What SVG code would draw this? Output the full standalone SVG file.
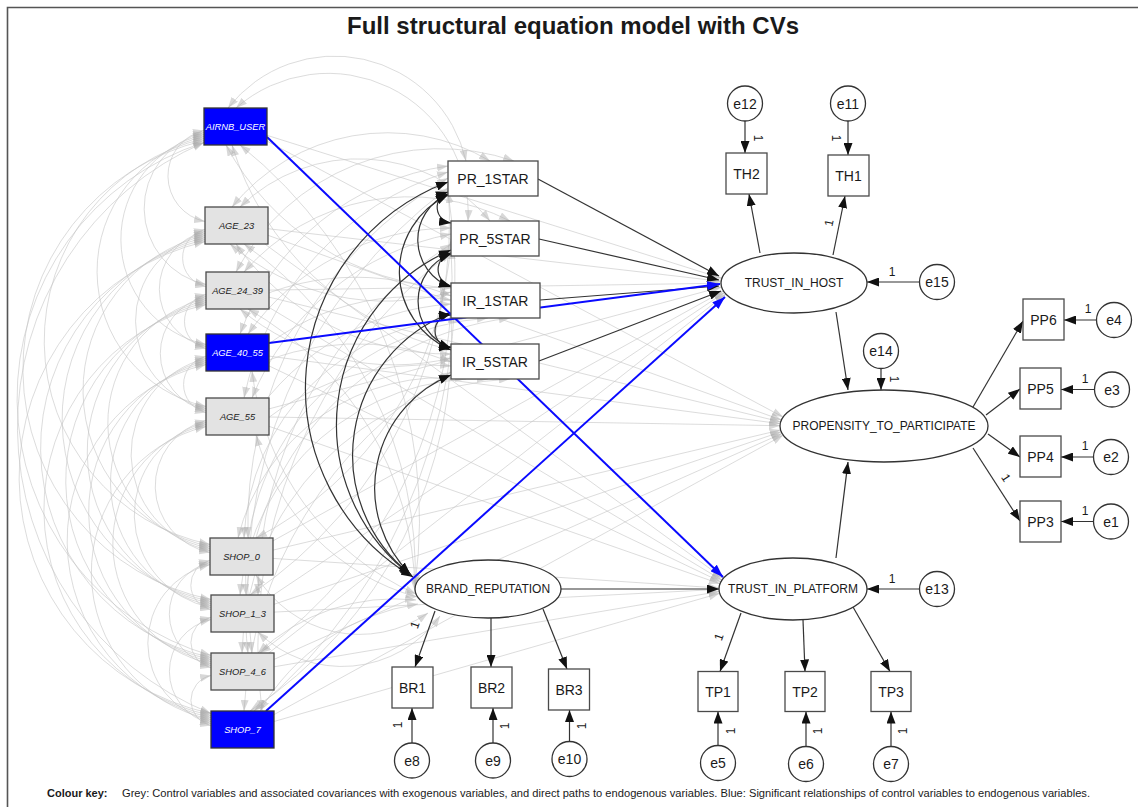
<svg xmlns="http://www.w3.org/2000/svg" width="1138" height="807" viewBox="0 0 1138 807">
  <style>
    text { font-family: "Liberation Sans", Arial, sans-serif; fill: #1a1a1a; }
    .box { fill: #ffffff; stroke: #4a4a4a; stroke-width: 1.3; }
    .ctl { fill: #e3e3e3; stroke: #4a4a4a; stroke-width: 1.3; }
    .sig { fill: #0000ff; stroke: #333333; stroke-width: 1.3; }
    .lat { fill: #ffffff; stroke: #333333; stroke-width: 1.3; }
    .err { fill: #ffffff; stroke: #333333; stroke-width: 1.3; }
    .lbl { font-size: 14px; text-anchor: middle; dominant-baseline: central; }
    .llbl { font-size: 12px; text-anchor: middle; dominant-baseline: central; }
    .clbl { font-size: 9.3px; font-style: italic; text-anchor: middle; dominant-baseline: central; }
    .clbl.w { fill: #ffffff; }
    .one { font-size: 12px; text-anchor: middle; dominant-baseline: central; }
    .path { fill: none; stroke: #333333; stroke-width: 1.2; marker-end: url(#ah); }
    .cov { fill: none; stroke: #333333; stroke-width: 1.2; marker-start: url(#ah); marker-end: url(#ah); }
    .gcov { fill: none; stroke: #c4c4c4; stroke-opacity: 0.6; stroke-width: 1; marker-start: url(#gh); marker-end: url(#gh); }
    .gpath { fill: none; stroke: #c4c4c4; stroke-opacity: 0.6; stroke-width: 1; marker-end: url(#gh); }
    .bpath { fill: none; stroke: #0a0aff; stroke-width: 2; marker-end: url(#bh); }
  </style>
  <defs>
    <marker id="ah" viewBox="0 0 12 9" refX="12" refY="4.5" markerWidth="12" markerHeight="9" markerUnits="userSpaceOnUse" orient="auto-start-reverse">
      <path d="M0,0L12,4.5L0,9z" fill="#111111"/>
    </marker>
    <marker id="bh" viewBox="0 0 13 9" refX="13" refY="4.5" markerWidth="13" markerHeight="9" markerUnits="userSpaceOnUse" orient="auto-start-reverse">
      <path d="M0,0L13,4.5L0,9z" fill="#0a0aff"/>
    </marker>
    <marker id="gh" viewBox="0 0 11 8" refX="11" refY="4" markerWidth="11" markerHeight="8" markerUnits="userSpaceOnUse" orient="auto-start-reverse">
      <path d="M0,0L11,4L0,8z" fill="#a8a8a8" fill-opacity="0.45"/>
    </marker>
  </defs>

  <rect x="0" y="0" width="1138" height="807" fill="#ffffff"/>
  <!-- frame -->
  <path d="M7.5,807 L7.5,7.5 L1138,7.5" fill="none" stroke="#555555" stroke-width="1.6"/>

  <g id="title">
    <text x="573" y="34" font-size="24" font-weight="bold" text-anchor="middle" fill="#000000">Full structural equation model with CVs</text>
  </g>

  <g id="connectors">
    <!-- covariances among control variables -->
    <g id="control-covariances">
      <path class="gcov" d="M204,130.5 A46.6,46.6 0 0 0 205,221.5"/>
      <path class="gcov" d="M204,132.5 A77.9,77.9 0 0 0 206,284.5"/>
      <path class="gcov" d="M204,134.5 A107.6,107.6 0 0 0 206,344.5"/>
      <path class="gcov" d="M204,136.5 A138.4,138.4 0 0 0 206,406.5"/>
      <path class="gcov" d="M204,138.5 A208,208 0 0 0 210,544.5"/>
      <path class="gcov" d="M204,140.5 A235,235 0 0 0 211,599.5"/>
      <path class="gcov" d="M204,142.5 A268,268 0 0 0 211,655.5"/>
      <path class="gcov" d="M204,142.5 A309.5,309.5 0 0 0 211,713.5"/>
      <path class="gcov" d="M205,229.5 A29.2,29.2 0 0 0 206,286.5"/>
      <path class="gcov" d="M205,231.5 A58.9,58.9 0 0 0 206,346.5"/>
      <path class="gcov" d="M205,233.5 A89.7,89.7 0 0 0 206,408.5"/>
      <path class="gcov" d="M205,235.5 A159.4,159.4 0 0 0 210,546.5"/>
      <path class="gcov" d="M205,237.5 A186.5,186.5 0 0 0 211,601.5"/>
      <path class="gcov" d="M205,239.5 A214.2,214.2 0 0 0 211,657.5"/>
      <path class="gcov" d="M205,241.5 A241.9,241.9 0 0 0 211,713.5"/>
      <path class="gcov" d="M206,294.5 A27.7,27.7 0 0 0 206,348.5"/>
      <path class="gcov" d="M206,296.5 A58.4,58.4 0 0 0 206,410.5"/>
      <path class="gcov" d="M206,298.5 A128.1,128.1 0 0 0 210,548.5"/>
      <path class="gcov" d="M206,300.5 A155.3,155.3 0 0 0 211,603.5"/>
      <path class="gcov" d="M206,302.5 A183,183 0 0 0 211,659.5"/>
      <path class="gcov" d="M206,304.5 A210.6,210.6 0 0 0 211,715.5"/>
      <path class="gcov" d="M206,356.5 A28.7,28.7 0 0 0 206,412.5"/>
      <path class="gcov" d="M206,358.5 A98.4,98.4 0 0 0 210,550.5"/>
      <path class="gcov" d="M206,360.5 A125.6,125.6 0 0 0 211,605.5"/>
      <path class="gcov" d="M206,362.5 A153.2,153.2 0 0 0 211,661.5"/>
      <path class="gcov" d="M206,364.5 A180.9,180.9 0 0 0 211,717.5"/>
      <path class="gcov" d="M206,420.5 A67.7,67.7 0 0 0 210,552.5"/>
      <path class="gcov" d="M206,422.5 A94.8,94.8 0 0 0 211,607.5"/>
      <path class="gcov" d="M206,424.5 A122.5,122.5 0 0 0 211,663.5"/>
      <path class="gcov" d="M206,426.5 A150.2,150.2 0 0 0 211,719.5"/>
      <path class="gcov" d="M210,560.5 A25.1,25.1 0 0 0 211,609.5"/>
      <path class="gcov" d="M210,562.5 A52.8,52.8 0 0 0 211,665.5"/>
      <path class="gcov" d="M210,564.5 A80.5,80.5 0 0 0 211,721.5"/>
      <path class="gcov" d="M211,617.5 A25.6,25.6 0 0 0 211,667.5"/>
      <path class="gcov" d="M211,619.5 A53.3,53.3 0 0 0 211,723.5"/>
      <path class="gcov" d="M211,675.5 A25.6,25.6 0 0 0 211,725.5"/>
    </g>

    <!-- covariances of control variables with exogenous variables -->
    <g id="control-exogenous-covariances">
      <path class="gcov" d="M228,108 A135,135 0 0 1 466,161"/>
      <path class="gcov" d="M232,207 A200,200 0 0 1 490,161"/>
      <path class="gcov" d="M236,272 A230,230 0 0 1 514,161"/>
      <path class="gcov" d="M240,334 A260,260 0 0 1 448,166"/>
      <path class="gcov" d="M244,398 A300,300 0 0 1 448,172"/>
      <path class="gcov" d="M248,538 A400,400 0 0 1 448,178"/>
      <path class="gcov" d="M250,595 A450,450 0 0 0 448,184"/>
      <path class="gcov" d="M252,653 A500,500 0 0 1 448,188"/>
      <path class="gcov" d="M254,711 A560,560 0 0 0 448,192"/>

      <path class="gcov" d="M236,108 A140,140 0 0 1 468,221"/>
      <path class="gcov" d="M240,207 A170,170 0 0 1 490,221"/>
      <path class="gcov" d="M244,272 A220,220 0 0 1 510,221"/>
      <path class="gcov" d="M248,334 A250,250 0 0 1 451,228"/>
      <path class="gcov" d="M252,398 A270,270 0 0 1 451,234"/>
      <path class="gcov" d="M256,538 A360,360 0 0 0 451,240"/>
      <path class="gcov" d="M258,595 A420,420 0 0 1 451,244"/>
      <path class="gcov" d="M260,653 A460,460 0 0 0 451,248"/>
      <path class="gcov" d="M262,711 A500,500 0 0 1 451,252"/>

      <path class="gcov" d="M226,145 A270,270 0 0 0 451,288"/>
      <path class="gcov" d="M230,244 A240,240 0 0 0 451,292"/>
      <path class="gcov" d="M234,309 A250,250 0 0 1 451,296"/>
      <path class="gcov" d="M238,371 A240,240 0 0 1 451,300"/>
      <path class="gcov" d="M242,435 A260,260 0 0 1 451,304"/>
      <path class="gcov" d="M244,538 A230,230 0 0 1 466,318"/>
      <path class="gcov" d="M246,595 A260,260 0 0 1 488,318"/>
      <path class="gcov" d="M248,653 A300,300 0 0 1 510,318"/>
      <path class="gcov" d="M250,711 A450,450 0 0 0 451,312"/>

      <path class="gcov" d="M232,145 A300,300 0 0 0 451,350"/>
      <path class="gcov" d="M236,244 A260,260 0 0 0 451,354"/>
      <path class="gcov" d="M240,309 A240,240 0 0 0 451,358"/>
      <path class="gcov" d="M244,371 A250,250 0 0 1 451,362"/>
      <path class="gcov" d="M248,435 A260,260 0 0 1 451,366"/>
      <path class="gcov" d="M238,538 A210,210 0 0 1 466,379"/>
      <path class="gcov" d="M240,595 A240,240 0 0 1 488,379"/>
      <path class="gcov" d="M242,653 A280,280 0 0 1 510,379"/>
      <path class="gcov" d="M244,711 A420,420 0 0 1 451,372"/>

      <path class="gcov" d="M240,145 A480,480 0 0 1 415,585"/>
      <path class="gcov" d="M244,244 A400,400 0 0 1 415,588"/>
      <path class="gcov" d="M248,309 A330,330 0 0 1 415,591"/>
      <path class="gcov" d="M252,371 A280,280 0 0 0 416,594"/>
      <path class="gcov" d="M256,435 A230,230 0 0 0 417,597"/>
      <path class="gcov" d="M256,575 A120,120 0 0 0 428,613"/>
      <path class="gcov" d="M258,632 A120,120 0 0 0 440,616"/>
      <path class="gcov" d="M258,653 A200,200 0 0 1 416,600"/>
      <path class="gcov" d="M260,711 A220,220 0 0 1 418,604"/>
    </g>

    <!-- direct paths from control variables to endogenous variables -->
    <g id="control-paths">
      <path class="gpath" d="M267,135.3 L722,278.4"/>
      <path class="gpath" d="M268,228.7 L721,281.3"/>
      <path class="gpath" d="M269,290.1 L721,283.2"/>
      <path class="gpath" d="M269,408.9 L721.7,286.9"/>
      <path class="gpath" d="M273,540.9 L723.6,290.9"/>
      <path class="gpath" d="M273.4,595 L724.6,292.4"/>
      <path class="gpath" d="M268.8,653 L726,293.9"/>

      <path class="gpath" d="M264.8,244 L723.4,578.5"/>
      <path class="gpath" d="M269,307.4 L722,580.2"/>
      <path class="gpath" d="M269,365.9 L720.9,581.9"/>
      <path class="gpath" d="M269,426.3 L720,583.8"/>
      <path class="gpath" d="M273,558.4 L719,588"/>
      <path class="gpath" d="M274,612.1 L719,589.4"/>
      <path class="gpath" d="M274,666.8 L719.2,591.5"/>
      <path class="gpath" d="M274,721.5 L719.7,593.3"/>

      <path class="gpath" d="M267,141.1 L783.2,417.1"/>
      <path class="gpath" d="M268,235.3 L781.5,420"/>
      <path class="gpath" d="M269,297.1 L780.7,421.9"/>
      <path class="gpath" d="M269,356.1 L780.2,423.7"/>
      <path class="gpath" d="M269,417 L780,425.7"/>
      <path class="gpath" d="M273,550.1 L780.6,430"/>
      <path class="gpath" d="M274,604.3 L781.3,431.7"/>
      <path class="gpath" d="M274,659.4 L782.2,433.4"/>
      <path class="gpath" d="M274,714.6 L783.3,435.1"/>
    </g>

    <!-- covariances among the exogenous variables -->
    <g id="exogenous-covariances">
      <path class="cov" d="M448,192 A16,16 0 0 0 451,223"/>
      <path class="cov" d="M451,253 A17,17 0 0 0 451,286"/>
      <path class="cov" d="M451,315 A16,16 0 0 0 451,347"/>
      <path class="cov" d="M448,194 A50,50 0 0 0 451,287"/>
      <path class="cov" d="M451,254 A50,50 0 0 0 451,348"/>
      <path class="cov" d="M448,195 A85,85 0 0 0 451,350"/>
      <path class="cov" d="M413,577 A220,220 0 0 1 448,182"/>
      <path class="cov" d="M412,576 A190,190 0 0 1 451,250"/>
      <path class="cov" d="M411,575 A152,152 0 0 1 451,313"/>
      <path class="cov" d="M410,574 A122,122 0 0 1 451,375"/>
    </g>

    <!-- structural and measurement paths -->
    <g id="model-paths">
      <path class="path" d="M538,179 L719,276"/>
      <path class="path" d="M539,239 L719,280"/>
      <path class="path" d="M540,300 L719,286"/>
      <path class="path" d="M539,361 L721,291"/>
      <path class="path" d="M561,589 L719,589"/>
      <path class="path" d="M836,312 L848,390"/>
      <path class="path" d="M836,558 L848,462"/>

      <path class="path" d="M760,253 L749,194"/>
      <path class="path" d="M833,255 L845,196"/>
      <path class="path" d="M745,121 L745,153"/>
      <path class="path" d="M848,121 L848,155"/>
      <path class="path" d="M919.5,282 L867,282"/>
      <path class="path" d="M881,368.5 L881,390"/>

      <path class="path" d="M973,407 L1023,321"/>
      <path class="path" d="M986,415 L1020,389"/>
      <path class="path" d="M988,434 L1020,457"/>
      <path class="path" d="M973,448 L1020,521"/>
      <path class="path" d="M1096.5,320 L1064,320"/>
      <path class="path" d="M1094.5,389.5 L1061,389.5"/>
      <path class="path" d="M1093.5,457 L1061,457"/>
      <path class="path" d="M1093.5,521.5 L1061,521.5"/>

      <path class="path" d="M919.5,589 L867,589"/>
      <path class="path" d="M741,613 L720,671.5"/>
      <path class="path" d="M803,620 L805,671.5"/>
      <path class="path" d="M853,607 L890,671.5"/>
      <path class="path" d="M718,745.5 L718,711.5"/>
      <path class="path" d="M806,746.5 L806,711.5"/>
      <path class="path" d="M891,746.5 L891,711.5"/>

      <path class="path" d="M435,611 L415,667"/>
      <path class="path" d="M491,618 L491,667"/>
      <path class="path" d="M543,609 L567,669"/>
      <path class="path" d="M412,743 L412,708"/>
      <path class="path" d="M493,743 L493,708"/>
      <path class="path" d="M569.5,741.5 L569.5,710"/>
    </g>

    <!-- significant control paths -->
    <g id="significant-paths">
      <path class="bpath" d="M267,137 L723,577"/>
      <path class="bpath" d="M269,343 L720,284"/>
      <path class="bpath" d="M266,711 L725,297"/>
    </g>

    <!-- loadings fixed to one -->
    <g id="fixed-loadings">
      <text class="one" x="892" y="272">1</text>
      <text class="one" x="892" y="579">1</text>
      <text class="one" x="1088" y="309">1</text>
      <text class="one" x="1085" y="379">1</text>
      <text class="one" x="1085" y="446">1</text>
      <text class="one" x="1085" y="511">1</text>
      <text class="one" x="894" y="379" transform="rotate(90 894 379)">1</text>
      <text class="one" x="758" y="138" transform="rotate(90 758 138)">1</text>
      <text class="one" x="836" y="138" transform="rotate(90 836 138)">1</text>
      <text class="one" x="829" y="223" transform="rotate(-78 829 223)">1</text>
      <text class="one" x="1006" y="478" transform="rotate(57 1006 478)">1</text>
      <text class="one" x="719" y="637" transform="rotate(-70 719 637)">1</text>
      <text class="one" x="415" y="625" transform="rotate(-70 415 625)">1</text>
      <text class="one" x="731" y="731" transform="rotate(-90 731 731)">1</text>
      <text class="one" x="818" y="731" transform="rotate(-90 818 731)">1</text>
      <text class="one" x="903" y="731" transform="rotate(-90 903 731)">1</text>
      <text class="one" x="398" y="725" transform="rotate(-90 398 725)">1</text>
      <text class="one" x="505" y="726" transform="rotate(-90 505 726)">1</text>
      <text class="one" x="582" y="726" transform="rotate(-90 582 726)">1</text>
    </g>
  </g>

  <!-- control variables -->
  <g id="AIRNB_USER"><rect class="sig" x="204" y="108" width="63" height="37"/><text class="clbl w" x="235.5" y="126.5">AIRNB_USER</text></g>
  <g id="AGE_23"><rect class="ctl" x="205" y="207" width="63" height="37"/><text class="clbl" x="236.5" y="225.5">AGE_23</text></g>
  <g id="AGE_24_39"><rect class="ctl" x="206" y="272" width="63" height="37"/><text class="clbl" x="237.5" y="290.5">AGE_24_39</text></g>
  <g id="AGE_40_55"><rect class="sig" x="206" y="334" width="63" height="37"/><text class="clbl w" x="237.5" y="352.5">AGE_40_55</text></g>
  <g id="AGE_55"><rect class="ctl" x="206" y="398" width="63" height="37"/><text class="clbl" x="237.5" y="416.5">AGE_55</text></g>
  <g id="SHOP_0"><rect class="ctl" x="210" y="538" width="63" height="37"/><text class="clbl" x="241.5" y="556.5">SHOP_0</text></g>
  <g id="SHOP_1_3"><rect class="ctl" x="211" y="595" width="63" height="37"/><text class="clbl" x="242.5" y="613.5">SHOP_1_3</text></g>
  <g id="SHOP_4_6"><rect class="ctl" x="211" y="653" width="63" height="37"/><text class="clbl" x="242.5" y="671.5">SHOP_4_6</text></g>
  <g id="SHOP_7"><rect class="sig" x="211" y="711" width="63" height="37"/><text class="clbl w" x="242.5" y="729.5">SHOP_7</text></g>

  <!-- exogenous observed variables -->
  <g id="PR_1STAR"><rect class="box" x="448" y="161" width="90" height="35"/><text class="lbl" x="493" y="178.5">PR_1STAR</text></g>
  <g id="PR_5STAR"><rect class="box" x="451" y="221" width="88" height="35"/><text class="lbl" x="495" y="238.5">PR_5STAR</text></g>
  <g id="IR_1STAR"><rect class="box" x="451" y="283" width="89" height="35"/><text class="lbl" x="495.5" y="300.5">IR_1STAR</text></g>
  <g id="IR_5STAR"><rect class="box" x="451" y="344" width="88" height="35"/><text class="lbl" x="495" y="361.5">IR_5STAR</text></g>

  <!-- latent variables -->
  <g id="BRAND_REPUTATION"><ellipse class="lat" cx="488" cy="589" rx="73" ry="29"/><text class="llbl" x="488" y="589">BRAND_REPUTATION</text></g>
  <g id="TRUST_IN_HOST"><ellipse class="lat" cx="794" cy="283" rx="73" ry="30"/><text class="llbl" x="794" y="283">TRUST_IN_HOST</text></g>
  <g id="TRUST_IN_PLATFORM"><ellipse class="lat" cx="793" cy="589" rx="74" ry="31"/><text class="llbl" x="793" y="589">TRUST_IN_PLATFORM</text></g>
  <g id="PROPENSITY_TO_PARTICIPATE"><ellipse class="lat" cx="884" cy="426" rx="104" ry="36"/><text class="llbl" x="884" y="426">PROPENSITY_TO_PARTICIPATE</text></g>

  <!-- indicators -->
  <g id="TH2"><rect class="box" x="726" y="153" width="41" height="41"/><text class="lbl" x="746.5" y="173.5">TH2</text></g>
  <g id="TH1"><rect class="box" x="828" y="155" width="41" height="41"/><text class="lbl" x="848.5" y="175.5">TH1</text></g>
  <g id="PP6"><rect class="box" x="1023" y="299" width="41" height="41"/><text class="lbl" x="1043.5" y="319.5">PP6</text></g>
  <g id="PP5"><rect class="box" x="1020" y="368" width="41" height="41"/><text class="lbl" x="1040.5" y="388.5">PP5</text></g>
  <g id="PP4"><rect class="box" x="1020" y="436" width="41" height="41"/><text class="lbl" x="1040.5" y="456.5">PP4</text></g>
  <g id="PP3"><rect class="box" x="1020" y="501" width="41" height="41"/><text class="lbl" x="1040.5" y="521.5">PP3</text></g>
  <g id="TP1"><rect class="box" x="698" y="671.5" width="40" height="40"/><text class="lbl" x="718" y="691.5">TP1</text></g>
  <g id="TP2"><rect class="box" x="785" y="671.5" width="40" height="40"/><text class="lbl" x="805" y="691.5">TP2</text></g>
  <g id="TP3"><rect class="box" x="871" y="671.5" width="40" height="40"/><text class="lbl" x="891" y="691.5">TP3</text></g>
  <g id="BR1"><rect class="box" x="392" y="667" width="41" height="41"/><text class="lbl" x="412.5" y="687.5">BR1</text></g>
  <g id="BR2"><rect class="box" x="471" y="667" width="41" height="41"/><text class="lbl" x="491.5" y="687.5">BR2</text></g>
  <g id="BR3"><rect class="box" x="548.5" y="669" width="41" height="41"/><text class="lbl" x="569" y="689.5">BR3</text></g>

  <!-- error terms -->
  <g id="e12"><circle class="err" cx="745" cy="103.5" r="17.5"/><text class="lbl" x="745" y="103.5">e12</text></g>
  <g id="e11"><circle class="err" cx="848" cy="103.5" r="17.5"/><text class="lbl" x="848" y="103.5">e11</text></g>
  <g id="e15"><circle class="err" cx="937" cy="282" r="17.5"/><text class="lbl" x="937" y="282">e15</text></g>
  <g id="e14"><circle class="err" cx="881" cy="351" r="17.5"/><text class="lbl" x="881" y="351">e14</text></g>
  <g id="e4"><circle class="err" cx="1114" cy="320" r="17.5"/><text class="lbl" x="1114" y="320">e4</text></g>
  <g id="e3"><circle class="err" cx="1112" cy="389.5" r="17.5"/><text class="lbl" x="1112" y="389.5">e3</text></g>
  <g id="e2"><circle class="err" cx="1111" cy="457" r="17.5"/><text class="lbl" x="1111" y="457">e2</text></g>
  <g id="e1"><circle class="err" cx="1111" cy="521.5" r="17.5"/><text class="lbl" x="1111" y="521.5">e1</text></g>
  <g id="e13"><circle class="err" cx="937" cy="589" r="17.5"/><text class="lbl" x="937" y="589">e13</text></g>
  <g id="e5"><circle class="err" cx="718" cy="763" r="17.5"/><text class="lbl" x="718" y="763">e5</text></g>
  <g id="e6"><circle class="err" cx="806" cy="764" r="17.5"/><text class="lbl" x="806" y="764">e6</text></g>
  <g id="e7"><circle class="err" cx="891" cy="764" r="17.5"/><text class="lbl" x="891" y="764">e7</text></g>
  <g id="e8"><circle class="err" cx="412" cy="760.5" r="17.5"/><text class="lbl" x="412" y="760.5">e8</text></g>
  <g id="e9"><circle class="err" cx="493" cy="760.5" r="17.5"/><text class="lbl" x="493" y="760.5">e9</text></g>
  <g id="e10"><circle class="err" cx="569.5" cy="759" r="17.5"/><text class="lbl" x="569.5" y="759">e10</text></g>

  <g id="colour-key">
    <text x="47" y="797" font-size="11" font-weight="bold" fill="#000000">Colour key:</text>
    <text x="122" y="797" font-size="11" fill="#000000" textLength="968" lengthAdjust="spacingAndGlyphs">Grey: Control variables and associated covariances with exogenous variables, and direct paths to endogenous variables. Blue: Significant relationships of control variables to endogenous variables.</text>
  </g>
</svg>
